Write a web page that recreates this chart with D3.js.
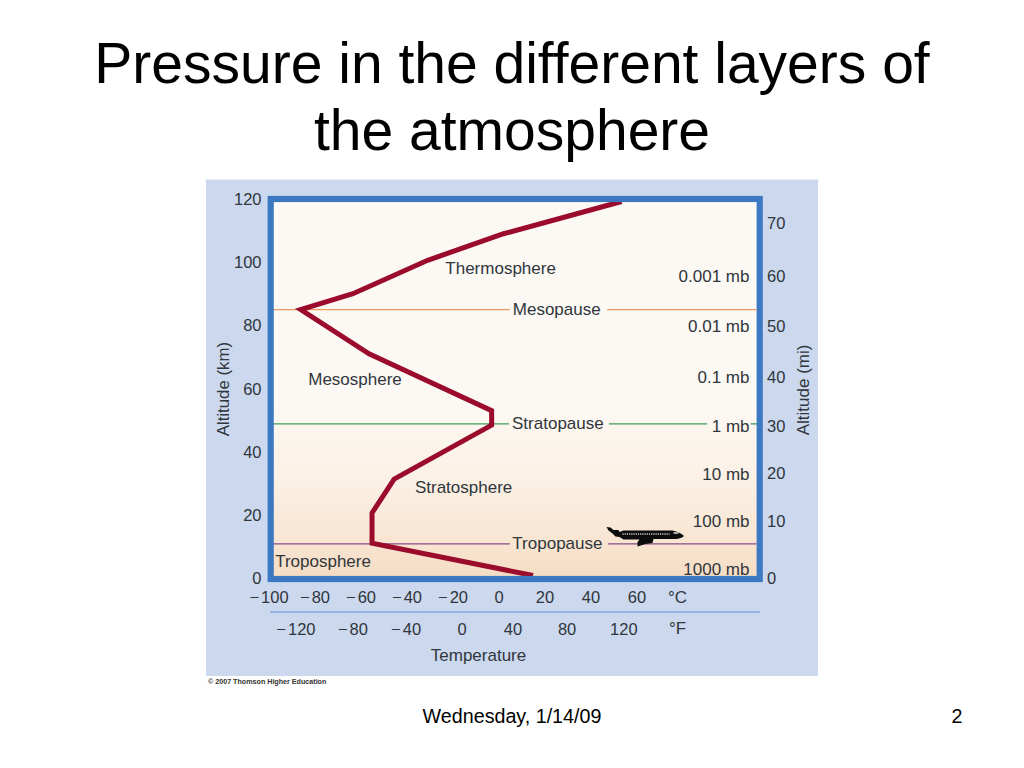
<!DOCTYPE html>
<html><head><meta charset="utf-8">
<script src="https://cdn.jsdelivr.net/npm/d3@7"></script>
<style>html,body{margin:0;padding:0;background:#fff}svg{display:block}text{font-family:"Liberation Sans",Arial,sans-serif}</style>
</head><body><svg id="c" width="1024" height="768"></svg>
<script>
const titleLines = ["Pressure in the different layers of", "the atmosphere"];
const footerLeft = "Wednesday, 1/14/09";
const footerRight = "2";
const altitudeTicks = [0, 20, 40, 60, 80, 100, 120];
const celsiusTicks = [-100, -80, -60, -40, -20, 0, 20, 40, 60];
const fahrenheitTicks = [-120, -80, -40, 0, 40, 80, 120];
const fahrenheitAtCelsius = [-88.3, -63.5, -40.4, -16.1, 6.1, 29.6, 54.3];
const mileTicks = [0, 10, 20, 30, 40, 50, 60, 70];
const mileAtKm = [0, 18, 33.2, 48.1, 63.7, 79.9, 95.7, 112.5];
const pressureLabels = ["1000 mb", "100 mb", "10 mb", "1 mb", "0.1 mb", "0.01 mb", "0.001 mb"];
const pressureAtKm = [2.9, 18, 33, 48.1, 63.7, 79.9, 95.7];
const profileTemp = [14.8, -55.2, -55.2, -45.6, -3.2, -3.2, -56.5, -86.2, -63.5, -31, 2, 53.3];
const profileKm = [0.8, 11, 20.6, 31.3, 48.4, 53, 71, 85, 90, 100.6, 109, 119.2];
const layerNames = ["Thermosphere", "Mesosphere", "Stratosphere", "Troposphere"];
const layerTemp = [0.7, -62.6, -15.4, -76.5];
const layerKm = [96.3, 61.2, 26.9, 3.5];
const pauseNames = ["Mesopause", "Stratopause", "Tropopause"];
const pauseKm = [85, 48.8, 10.8];
const pauseColors = ["#ee9a5c", "#3f9a55", "#8a4a86"];
const pauseGapTemp = [[4.7, 47], [4.3, 47.8], [4.7, 47.4]];
const pauseLabelTemp = [25.1, 25.6, 25.4];
const pauseEndTemp = [112, 90.5, 112];

const svg = d3.select("#c");
const x = d3.scaleLinear().domain([-100, 60]).range([269, 637]);
const y = d3.scaleLinear().domain([0, 120]).range([578, 199]);
const left = 270.7, right = 759.7, top_ = 199, bottom = 579;
const ink = "#30363c";

const defs = svg.append("defs");
const g = defs.append("linearGradient").attr("id","sky").attr("x1",0).attr("x2",0).attr("y1",0).attr("y2",1);
[[0,"#fcf9f5"],[0.55,"#fcf8f3"],[0.75,"#fbf0e4"],[0.9,"#f8e5d2"],[1,"#f5dcc3"]].forEach(s=>g.append("stop").attr("offset",s[0]).attr("stop-color",s[1]));

titleLines.forEach((t,i)=>svg.append("text").attr("x",512).attr("y",83+i*67).attr("text-anchor","middle").attr("font-size",57).attr("fill","#000").text(t));
svg.append("rect").attr("x",206).attr("y",179.5).attr("width",612).attr("height",496.5).attr("fill","#cbd8ee");
svg.append("rect").attr("x",left).attr("y",top_).attr("width",right-left).attr("height",bottom-top_).attr("fill","url(#sky)");

// pause lines
pauseKm.forEach((k,i)=>{
  const yy=y(k);
  const seg=(a,b)=>svg.append("line").attr("x1",a).attr("x2",b).attr("y1",yy).attr("y2",yy).attr("stroke",pauseColors[i]).attr("stroke-width",1.3);
  seg(left,x(pauseGapTemp[i][0]));
  seg(x(pauseGapTemp[i][1]),x(pauseEndTemp[i]));
  svg.append("text").attr("x",x(pauseLabelTemp[i])).attr("y",yy+5.3).attr("text-anchor","middle").attr("font-size",17).attr("fill",ink).text(pauseNames[i]);
});
svg.append("line").attr("x1",x(109.5)).attr("x2",right).attr("y1",y(48.8)).attr("y2",y(48.8)).attr("stroke",pauseColors[1]).attr("stroke-width",1.3);

// plane
const plane = svg.append("g").attr("transform","translate(605.5,527)");
plane.append("path").attr("fill","#0c0c0c").attr("d","M1,0 L5,0.5 L8,3 L13,3 L14,5 L18,3.5 L67,3.5 Q75,5 78.5,9 Q76,11.5 70,12 L48,12 L47,16 L40,17 L32,19.5 L32,15 L34,12.5 L18,12.5 L14,10 L10,9.5 L7,6.5 L3,3.5 Z");
plane.append("line").attr("x1",17).attr("x2",64).attr("y1",7).attr("y2",7).attr("stroke","#cfd0d0").attr("stroke-width",1.4).attr("stroke-dasharray","1.2 1");
plane.append("line").attr("x1",68).attr("x2",73).attr("y1",6).attr("y2",6).attr("stroke","#e8e8e8").attr("stroke-width",1.4);

// profile
const line = d3.line().x((d,i)=>x(profileTemp[i])).y((d,i)=>y(profileKm[i]));
svg.append("path").attr("d",line(profileTemp)).attr("fill","none").attr("stroke","#9b0c2c").attr("stroke-width",5).attr("stroke-linejoin","miter").attr("stroke-miterlimit",8);

// frame
svg.append("rect").attr("x",left).attr("y",top_).attr("width",right-left).attr("height",bottom-top_).attr("fill","none").attr("stroke","#3c79c2").attr("stroke-width",6.2);

// layer names
layerNames.forEach((n,i)=>svg.append("text").attr("x",x(layerTemp[i])).attr("y",y(layerKm[i])).attr("text-anchor","middle").attr("font-size",17).attr("fill",ink).text(n));

// axes
const lab=(sel,fs)=>sel.attr("font-size",fs).attr("fill",ink);
altitudeTicks.forEach(t=>lab(svg.append("text"),16.5).attr("x",261.5).attr("y",y(t)+6).attr("text-anchor","end").text(t));
mileTicks.forEach((t,i)=>lab(svg.append("text"),16.5).attr("x",767).attr("y",y(mileAtKm[i])+6).text(t));
pressureLabels.forEach((t,i)=>lab(svg.append("text"),17).attr("x",749.5).attr("y",y(pressureAtKm[i])+6).attr("text-anchor","end").text(t));
lab(svg.append("text"),16.8).attr("transform",`translate(229,${y(44.9)}) rotate(-90)`).text("Altitude (km)");
lab(svg.append("text"),17).attr("transform",`translate(809,${y(45.2)}) rotate(-90)`).text("Altitude (mi)");

// bottom axes
const tempTick=(t,xx,yy)=>{
  const el=lab(svg.append("text"),16.5).attr("x",xx).attr("y",yy).attr("text-anchor","middle");
  if(t<0){el.append("tspan").text("\u2212");el.append("tspan").attr("dx",2).text(-t);} else el.text(t);
};
celsiusTicks.forEach(t=>tempTick(t,x(t),603));
fahrenheitTicks.forEach((t,i)=>tempTick(t,x(fahrenheitAtCelsius[i]),635));
lab(svg.append("text"),17).attr("x",668).attr("y",603).text("\u00b0C");
lab(svg.append("text"),17).attr("x",669).attr("y",634).text("\u00b0F");
svg.append("line").attr("x1",270).attr("x2",760).attr("y1",612).attr("y2",612).attr("stroke","#5f93d0").attr("stroke-width",1.2);
lab(svg.append("text"),17).attr("x",478.5).attr("y",661).attr("text-anchor","middle").text("Temperature");
svg.append("text").attr("x",208).attr("y",684).attr("font-size",7.15).attr("font-weight","bold").attr("fill","#333").text("\u00a9 2007 Thomson Higher Education");

svg.append("text").attr("x",512).attr("y",723).attr("text-anchor","middle").attr("font-size",19.7).attr("fill","#000").text(footerLeft);
svg.append("text").attr("x",957).attr("y",723).attr("text-anchor","middle").attr("font-size",19.7).attr("fill","#000").text(footerRight);
</script></body></html>
